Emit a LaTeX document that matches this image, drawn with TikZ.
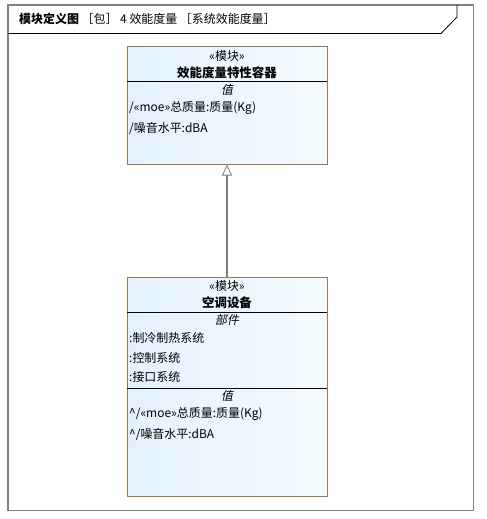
\documentclass[tikz,border=0pt]{standalone}
\usepackage{fontspec}
\setmainfont{Noto Sans CJK SC}
\newfontfamily\slantcjk{Noto Sans CJK SC}[FakeSlant=0.2]
\usetikzlibrary{arrows.meta}
\definecolor{frameGray}{HTML}{808080}
\definecolor{blockEdge}{HTML}{9A7A55}
\definecolor{blockTop}{HTML}{E4F1FD}
\definecolor{blockBot}{HTML}{F4FBFF}
\tikzset{
  block/.style={draw=blockEdge, line width=1bp, left color=blockTop, right color=blockBot,
    minimum width=200bp, inner sep=0pt},
  txt/.style={font=\fontsize{12}{14}\selectfont, inner sep=0pt},
  row/.style={txt, anchor=west},
}
\begin{document}
\begin{tikzpicture}[x=1bp, y=-1bp]
    \useasboundingbox (0,0) rectangle (487,519);
    \draw[frameGray, line width=1.5bp] (8,5) rectangle (473.5,510.5);
    \draw[black, line width=0.8bp] (8,33.5) -- (441,33.5) -- (457,17) -- (457,5);
    \node[txt, anchor=west] (title) at (19,18.5) {\textbf{模块定义图}\ ［包］ 4 效能度量 ［系统效能度量］};

    \node[block, minimum height=117bp] (cont) at (227,105.5) {};
    \draw[black, line width=0.8bp] (127,81) -- (327,81);
    \node[txt] (contSt) at (227,56) {«模块»};
    \node[txt, font=\fontsize{12.5}{14}\selectfont\bfseries] (contNm) at (227,73) {效能度量特性容器};
    \node[txt] (contVal) at (227,89.5) {\slantcjk 值};
    \node[row] (contA) at (129,108) {/«moe»总质量:质量(Kg)};
    \node[row] (contB) at (129,128.5) {/噪音水平:dBA};

    \node[block, minimum height=219bp] (ac) at (227,386.5) {};
    \draw[black, line width=0.8bp] (127,312) -- (327,312);
    \draw[black, line width=0.8bp] (127,388) -- (327,388);
    \node[txt] (acSt) at (227,286) {«模块»};
    \node[txt, font=\fontsize{12.5}{14}\selectfont\bfseries] (acNm) at (227,303) {空调设备};
    \node[txt] (acPart) at (227,319.5) {\slantcjk 部件};
    \node[row] (acP1) at (129,337.5) {:制冷制热系统};
    \node[row] (acP2) at (129,357.5) {:控制系统};
    \node[row] (acP3) at (129,377) {:接口系统};
    \node[txt] (acVal) at (227,395.5) {\slantcjk 值};
    \node[row] (acA) at (129,414) {\^{}/«moe»总质量:质量(Kg)};
    \node[row] (acB) at (129,434) {\^{}/噪音水平:dBA};

    \draw[frameGray, line width=1.5bp, -{Triangle[open, fill=white, length=11bp, width=10bp, line width=0.8bp]}] (ac.north) -- (cont.south);
\end{tikzpicture}
\end{document}
